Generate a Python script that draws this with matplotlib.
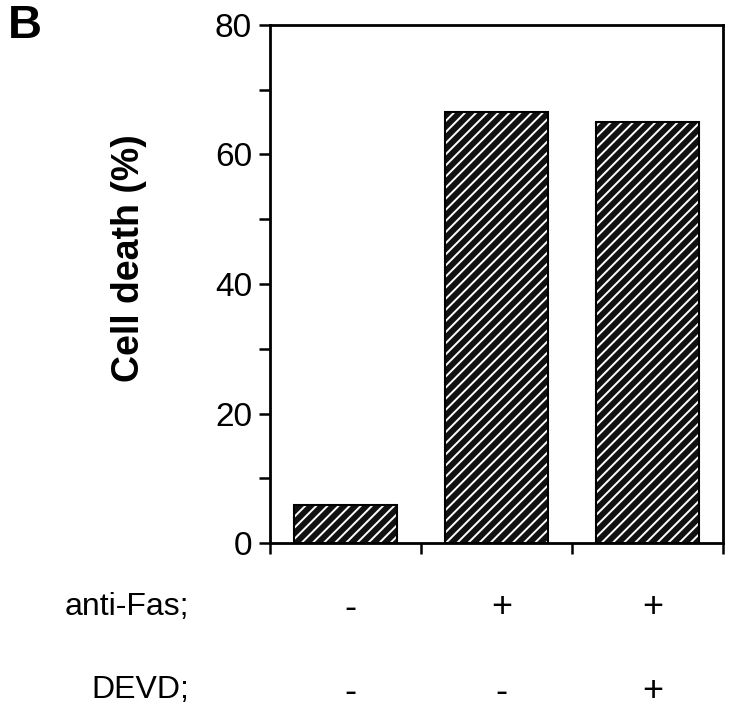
import matplotlib
matplotlib.use("Agg")
import matplotlib.pyplot as plt
import matplotlib.transforms as mtransforms

categories = ["control", "anti-Fas", "anti-Fas + DEVD"]
values = [5.9, 66.6, 65.0]
anti_fas = ["-", "+", "+"]
devd = ["-", "-", "+"]
yticks = [0, 20, 40, 60, 80]

plt.rcParams['font.family'] = ['Liberation Sans', 'DejaVu Sans']
plt.rcParams['hatch.linewidth'] = 1.4

W, H = 729, 714
fig = plt.figure(figsize=(W/100, H/100), dpi=100)
ax = fig.add_axes([270/W, 1-543/H, (723-270)/W, (543-25)/H])

xs = [i + 0.5 for i in range(len(values))]
ax.bar(xs, values, width=0.68, color='#111111', edgecolor='white', hatch='///', linewidth=0)
ax.bar(xs, values, width=0.68, fill=False, edgecolor='black', linewidth=1.5)

ax.set_xlim(0, 3)
ax.set_ylim(0, 80)
ax.set_yticks(yticks)
ax.set_yticks(range(10, 80, 20), minor=True)
ax.set_xticks([0, 1, 2, 3])
ax.set_xticklabels([])
ax.tick_params(axis='y', which='both', direction='out', length=8, width=1.8, labelsize=24, pad=5)
ax.tick_params(axis='x', direction='out', length=8, width=1.8)
for s in ax.spines.values():
    s.set_linewidth(2)

ax.set_ylabel("Cell death (%)", fontsize=27, fontweight='bold')
ax.yaxis.set_label_coords(-0.272, 0.55)

fig.text(8/W, 1-26/H, "B", fontsize=34, fontweight='bold', va='center', ha='left')

tr = mtransforms.blended_transform_factory(ax.transData, fig.transFigure) + \
    mtransforms.ScaledTranslation(5/100, 0, fig.dpi_scale_trans)
fig.text(189/W, 1-607/H, "anti-Fas;", fontsize=23, ha='right', va='center')
fig.text(189/W, 1-690/H, "DEVD;", fontsize=23, ha='right', va='center')
for x, a, d in zip(xs, anti_fas, devd):
    ax.text(x, 1-608/H, a, transform=tr, fontsize=26, ha='center', va='center')
    ax.text(x, 1-692/H, d, transform=tr, fontsize=26, ha='center', va='center')

fig.savefig("out.png", dpi=100)
